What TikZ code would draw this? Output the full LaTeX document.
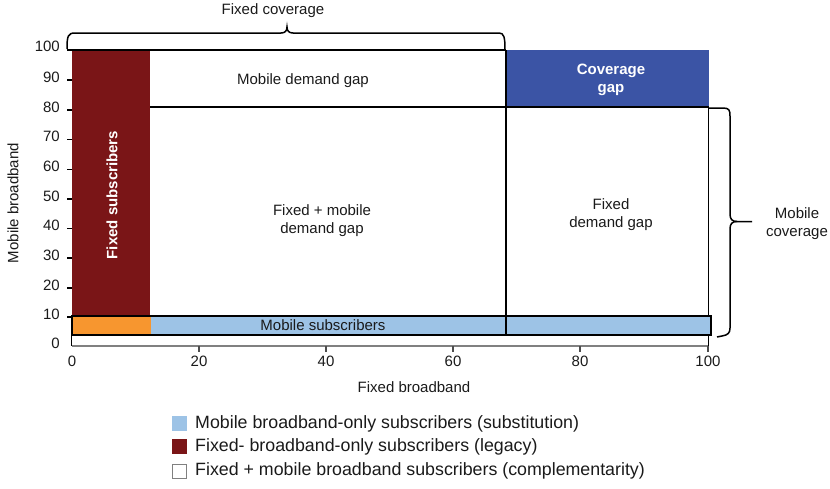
\documentclass[tikz,border=0pt]{standalone}
\usepackage{fontspec}
\setmainfont{Liberation Sans}
\definecolor{darkred}{HTML}{7A1517}
\definecolor{covblue}{HTML}{3B54A5}
\definecolor{lightblue}{HTML}{9DC3E6}
\definecolor{orangefill}{HTML}{F7962F}
\definecolor{textgray}{HTML}{1A1A1A}
\definecolor{axisgray}{HTML}{808080}
\begin{document}
\begin{tikzpicture}[x=1pt,y=-1pt,
  lbl/.style={font=\fontsize{15}{18}\selectfont,text=textgray,inner sep=0pt,align=center},
  ticklbl/.style={font=\fontsize{15}{18}\selectfont,text=textgray,inner sep=0pt},
  legtxt/.style={font=\fontsize{17.8}{21}\selectfont,text=textgray,inner sep=0pt,anchor=west},
  legbox/.style={minimum width=15pt,minimum height=15pt,inner sep=0pt},
  bracepath/.style={line width=1.5pt,black}]
\useasboundingbox (0,0) rectangle (830,488);
% filled regions
\fill[darkred] (72,50) rectangle (150,316);
\fill[covblue] (506,50) rectangle (709,107);
% x axis
\draw[axisgray,line width=2pt] (72,346) -- (709,346);
\foreach \x in {199,326,453,580,708}{\draw[axisgray!60!black,line width=1.5pt] (\x,346) -- (\x,352);}
\draw[black,line width=1.3pt] (71.5,316) -- (71.5,346);
\foreach \y in {50,80,110,139.5,169.5,199,228.5,258,288,317}{\draw[black,line width=1.5pt] (67,\y) -- (72,\y);}
% lines
\draw[black,line width=1.1pt] (72,50) -- (506,50);
\draw[black,line width=1.1pt] (150,107) -- (709,107);
\draw[black,line width=1.1pt] (708.5,107) -- (708.5,346);
% mobile subscribers bar
\fill[orangefill] (72,316) rectangle (151,335);
\fill[lightblue] (151,316) rectangle (711,335);
\draw[black,line width=2pt] (72,316) rectangle (711,335);
\draw[black,line width=2pt] (506,50) -- (506,335);
% braces
\draw[bracepath] (67,49) .. controls (67,36) and (68,33) .. (75,33) -- (281,33)
  .. controls (285,33) and (287,31) .. (287,27) .. controls (287,31) and (289,33) .. (293,33)
  -- (499,33) .. controls (504,33) and (505,37) .. (505,50);
\draw[bracepath] (708,108) -- (723,108) .. controls (729,108) and (730,110) .. (730,116)
  -- (730,214) .. controls (730,219) and (732,221.5) .. (737,221.5) -- (752,221.5);
\draw[bracepath] (737,221.5) .. controls (732,221.5) and (730,224) .. (730,229)
  -- (730,328) .. controls (730,333) and (728,335) .. (722,336) -- (717,337);
% texts
\node[lbl] (fcov) at (273,11) {Fixed coverage};
\node[lbl] (mcov) at (797,224) {Mobile\\coverage};
\node[lbl] (mdg) at (303,81) {Mobile demand gap};
\node[lbl,font=\fontsize{15}{18}\selectfont\bfseries,text=white] (cg) at (611,79.5) {Coverage\\gap};
\node[lbl] (fmdg) at (322,220.5) {Fixed + mobile\\demand gap};
\node[lbl] (fdg) at (611,215) {Fixed\\demand gap};
\node[lbl,font=\fontsize{15}{18}\selectfont\bfseries,text=white,rotate=90] (fs) at (112,195) {Fixed subscribers};
\node[lbl] (ms) at (323,325.5) {Mobile subscribers};
\node[lbl] (xlab) at (414,387) {Fixed broadband};
\node[lbl,rotate=90] (ylab) at (13,203) {Mobile broadband};
% tick labels
\foreach \v/\y in {100/46.5,90/77,80/107,70/136.5,60/166.5,50/196,40/225.5,30/255,20/285,10/314,0/343}{
  \node[ticklbl,anchor=east] (yt\v) at (60,\y) {\v};}
\foreach \v/\x in {0/72,20/199,40/326,60/453,80/580,100/708}{
  \node[ticklbl] (xt\v) at (\x,361.5) {\v};}
% legend
\node[legbox,fill=lightblue] (lb1) at (179.5,423.5) {};
\node[legbox,fill=darkred] (lb2) at (179.5,446.5) {};
\node[legbox,draw=axisgray,line width=0.8pt,minimum width=14pt,minimum height=14pt] (lb3) at (179.5,471) {};
\node[legtxt] (lt1) at (195,423.5) {Mobile broadband-only subscribers (substitution)};
\node[legtxt] (lt2) at (195,446.5) {Fixed- broadband-only subscribers (legacy)};
\node[legtxt] (lt3) at (195,471) {Fixed + mobile broadband subscribers (complementarity)};
\end{tikzpicture}
\end{document}
